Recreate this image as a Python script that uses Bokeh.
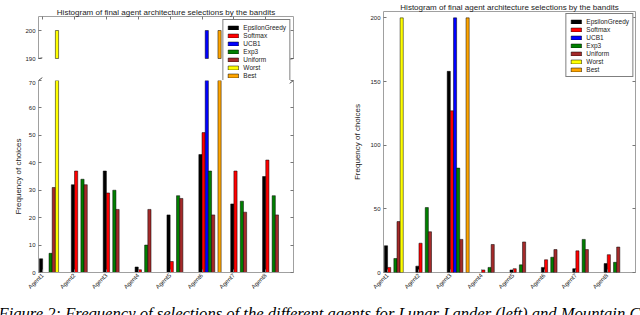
from bokeh.plotting import figure
from bokeh.layouts import column, row
from bokeh.models import (LinearAxis, FixedTicker, CustomJSTickFormatter, Legend,
                          LegendItem, Range1d, Arrow, Label, ColumnDataSource,
                          CDSView, IndexFilter)
from bokeh.embed import file_html
from bokeh.resources import INLINE
import math

# ---------------- data ----------------
agents = ["Agent1", "Agent2", "Agent3", "Agent4", "Agent5", "Agent6", "Agent7", "Agent8"]
series = ["EpsilonGreedy", "Softmax", "UCB1", "Exp3", "Uniform", "Worst", "Best"]
colors = ["black", "red", "blue", "green", "#a52a2a", "yellow", "orange"]

# Lunar Lander (left)
lunar_eps = [5, 32, 37, 2, 21, 43, 25, 35]
lunar_softmax = [0, 37, 29, 1, 4, 51, 37, 41]
lunar_ucb1 = [0, 0, 0, 0, 0, 200, 0, 0]
lunar_exp3 = [7, 34, 30, 10, 28, 37, 26, 28]
lunar_uniform = [31, 32, 23, 23, 27, 21, 22, 21]
lunar_worst = [200, 0, 0, 0, 0, 0, 0, 0]
lunar_best = [0, 0, 0, 0, 0, 200, 0, 0]

# Mountain Car (right)
mc_eps = [21, 5, 158, 0, 2, 4, 3, 7]
mc_softmax = [4, 23, 127, 2, 3, 10, 17, 14]
mc_ucb1 = [0, 0, 200, 0, 0, 0, 0, 0]
mc_exp3 = [11, 51, 82, 4, 6, 12, 26, 8]
mc_uniform = [40, 32, 26, 22, 24, 18, 18, 20]
mc_worst = [200, 0, 0, 0, 0, 0, 0, 0]
mc_best = [0, 0, 200, 0, 0, 0, 0, 0]

lunar = [lunar_eps, lunar_softmax, lunar_ucb1, lunar_exp3, lunar_uniform, lunar_worst, lunar_best]
mc = [mc_eps, mc_softmax, mc_ucb1, mc_exp3, mc_uniform, mc_worst, mc_best]

title_text = "Histogram of final agent architecture selections by the bandits"
ylabel = "Frequency of choices"
caption = ("Figure 2: Frequency of selections of the different agents for Lunar Lander (left) "
           "and Mountain Car (right).")

# broken-axis limits of the left chart
top_lo, top_hi = 190, 205
bot_lo, bot_hi = 0, 70

BAR_W = 0.1
FRAME = "#a0a0a0"
TXT = "#222222"
FONT = "Liberation Sans"

xticks = [i + BAR_W for i in range(len(agents))]
xfmt_code = "return labels[Math.round(tick - 0.1)] || '';"

# pixel geometry of the left column (top panel frame top / break / gap bottom)
LT_TOP_PX, LT_BREAK_PX, LT_BOT_PX = 16, 58, 80
px_per_unit_top = (LT_BREAK_PX - LT_TOP_PX) / (top_hi - top_lo)
lt_start = top_lo - (LT_BOT_PX - LT_BREAK_PX) / px_per_unit_top
LB_FRAME_PX = 192


def base_fig(width, height, xr, yr, **kw):
    p = figure(width=width, height=height, x_range=xr, y_range=yr,
               output_backend="svg", toolbar_location=None,
               x_axis_location=None, y_axis_location=None, **kw)
    p.grid.visible = False
    p.outline_line_color = None
    p.background_fill_color = "white"
    p.border_fill_color = "white"
    return p


def style_axis(ax, labels=True, line=True):
    ax.axis_line_color = FRAME if line else None
    ax.axis_line_width = 1
    ax.major_tick_in = 3
    ax.major_tick_out = 0
    ax.minor_tick_in = 0
    ax.minor_tick_out = 0
    ax.major_tick_line_color = "#777777"
    ax.major_label_text_font = FONT
    ax.major_label_text_color = TXT
    if labels:
        ax.major_label_text_font_size = "6px"
        ax.major_label_standoff = 3
    else:
        ax.major_label_text_font_size = "0px"
        ax.major_label_standoff = 0
    ax.axis_label_text_font = FONT
    ax.axis_label_text_font_style = "normal"
    ax.axis_label_text_font_size = "8px"
    ax.axis_label_text_color = TXT


def add_y_axes(p, ticks, label=None, standoff=3, bounds="auto", line=True):
    left = LinearAxis(ticker=FixedTicker(ticks=ticks), bounds=bounds)
    style_axis(left, True, line)
    if label:
        left.axis_label = label
        left.axis_label_standoff = standoff
    p.add_layout(left, "left")
    right = LinearAxis(ticker=FixedTicker(ticks=ticks), bounds=bounds)
    style_axis(right, False, line)
    p.add_layout(right, "right")


def add_x_axis(p, side, labels, line=True):
    ax = LinearAxis(ticker=FixedTicker(ticks=xticks),
                    formatter=CustomJSTickFormatter(args=dict(labels=agents), code=xfmt_code))
    style_axis(ax, labels, line)
    if labels:
        ax.major_label_orientation = math.pi / 4
        ax.major_label_standoff = 2
    p.add_layout(ax, side)


def add_bars(p, data, floor=0):
    shown, proxies = [], []
    for k, (vals, col) in enumerate(zip(data, colors)):
        src = ColumnDataSource(dict(x=[i + (k + 0.5) * BAR_W for i in range(len(vals))],
                                    top=list(vals)))
        view = CDSView(filter=IndexFilter(indices=[i for i, v in enumerate(vals) if v > floor]))
        r = p.vbar(x="x", top="top", bottom=floor, width=BAR_W, source=src, view=view,
                   fill_color=col, line_color="black", line_width=0.5)
        # hidden twin over the full series, used only for the legend swatch
        proxy = p.vbar(x="x", top="top", bottom=floor, width=BAR_W, source=src,
                       fill_color=col, line_color="black", line_width=0.5, visible=False)
        shown.append(r)
        proxies.append(proxy)
    return shown, proxies


def add_legend(p, rends, margin):
    items = [LegendItem(label=n, renderers=[r]) for n, r in zip(series, rends)]
    lg = Legend(items=items, location="top_right")
    lg.border_line_color = "black"
    lg.border_line_width = 1
    lg.background_fill_color = "white"
    lg.background_fill_alpha = 1
    lg.inactive_fill_alpha = 0
    lg.label_text_font = FONT
    lg.label_text_font_size = "6.5px"
    lg.label_text_color = TXT
    lg.glyph_width = 13
    lg.glyph_height = 5
    lg.label_height = 8
    lg.label_standoff = 4
    lg.spacing = 0
    lg.padding = 3
    lg.margin = margin
    p.add_layout(lg, "center")


def set_title(p):
    p.title.text = title_text
    p.title.text_font = FONT
    p.title.text_font_size = "8px"
    p.title.text_font_style = "normal"
    p.title.text_color = TXT
    p.title.align = "center"
    p.title.standoff = 0
    p.title.offset = 0


def mark(p, x0, y0, dx, dy):
    p.add_layout(Arrow(end=None, x_start=x0 - dx, y_start=y0 - dy,
                       x_end=x0 + dx, y_end=y0 + dy,
                       line_color="#555555", line_width=1))


# ---------------- left: broken axis ----------------
lx = Range1d(-0.03, 7.97)
d = 0.015
xspan = lx.end - lx.start

lt = base_fig(320, LT_BOT_PX, lx, Range1d(lt_start, top_hi), min_border_left=38,
              min_border_right=27, min_border_top=LT_TOP_PX, min_border_bottom=0)
set_title(lt)
add_x_axis(lt, "above", False)
add_y_axes(lt, [top_lo, top_hi - 5], bounds=(top_lo, top_hi))
lt_shown, lt_proxy = add_bars(lt, lunar, floor=top_lo)
for x0 in (lx.start, lx.end):
    mark(lt, x0, top_lo, d * xspan, d * (top_hi - top_lo))
    # upper half of the break marks of the lower panel
    mark(lt, x0, lt_start, d * xspan, d * LB_FRAME_PX / px_per_unit_top)
add_legend(lt, lt_proxy, 3)

lb = base_fig(320, 215, lx, Range1d(bot_lo, bot_hi), min_border_left=38, min_border_right=27,
              min_border_top=0, min_border_bottom=23)
add_x_axis(lb, "below", True)
add_y_axes(lb, list(range(bot_lo, bot_hi + 1, 10)), ylabel, standoff=3)
add_bars(lb, lunar)
for x0 in (lx.start, lx.end):
    mark(lb, x0, bot_hi, d * xspan, d * (bot_hi - bot_lo))

# ---------------- right ----------------
rx = Range1d(-0.03, 8.0)
rf = base_fig(320, 295, rx, Range1d(0, 205), min_border_left=63, min_border_right=5,
              min_border_top=0, min_border_bottom=23)
rf.outline_line_color = FRAME
rf.outline_line_width = 1
set_title(rf)
add_x_axis(rf, "below", True, line=False)
add_y_axes(rf, list(range(0, 201, 50)), ylabel, standoff=5, line=False)
rf_shown, rf_proxy = add_bars(rf, mc)
add_legend(rf, rf_proxy, 2)

# ---------------- caption ----------------
cap = figure(width=640, height=20, x_range=Range1d(0, 1), y_range=Range1d(0, 1),
             output_backend="svg", toolbar_location=None, min_border=0,
             x_axis_location=None, y_axis_location=None)
cap.grid.visible = False
cap.outline_line_color = None
cap.add_layout(Label(x=-2, y=2, x_units="screen", y_units="screen", text=caption,
                     text_font="Liberation Serif", text_font_style="italic",
                     text_font_size="16.6px", text_color="black", text_baseline="alphabetic"))

layout = column(row(column(lt, lb), rf), cap)

open("out.html", "w").write(file_html(layout, INLINE))
